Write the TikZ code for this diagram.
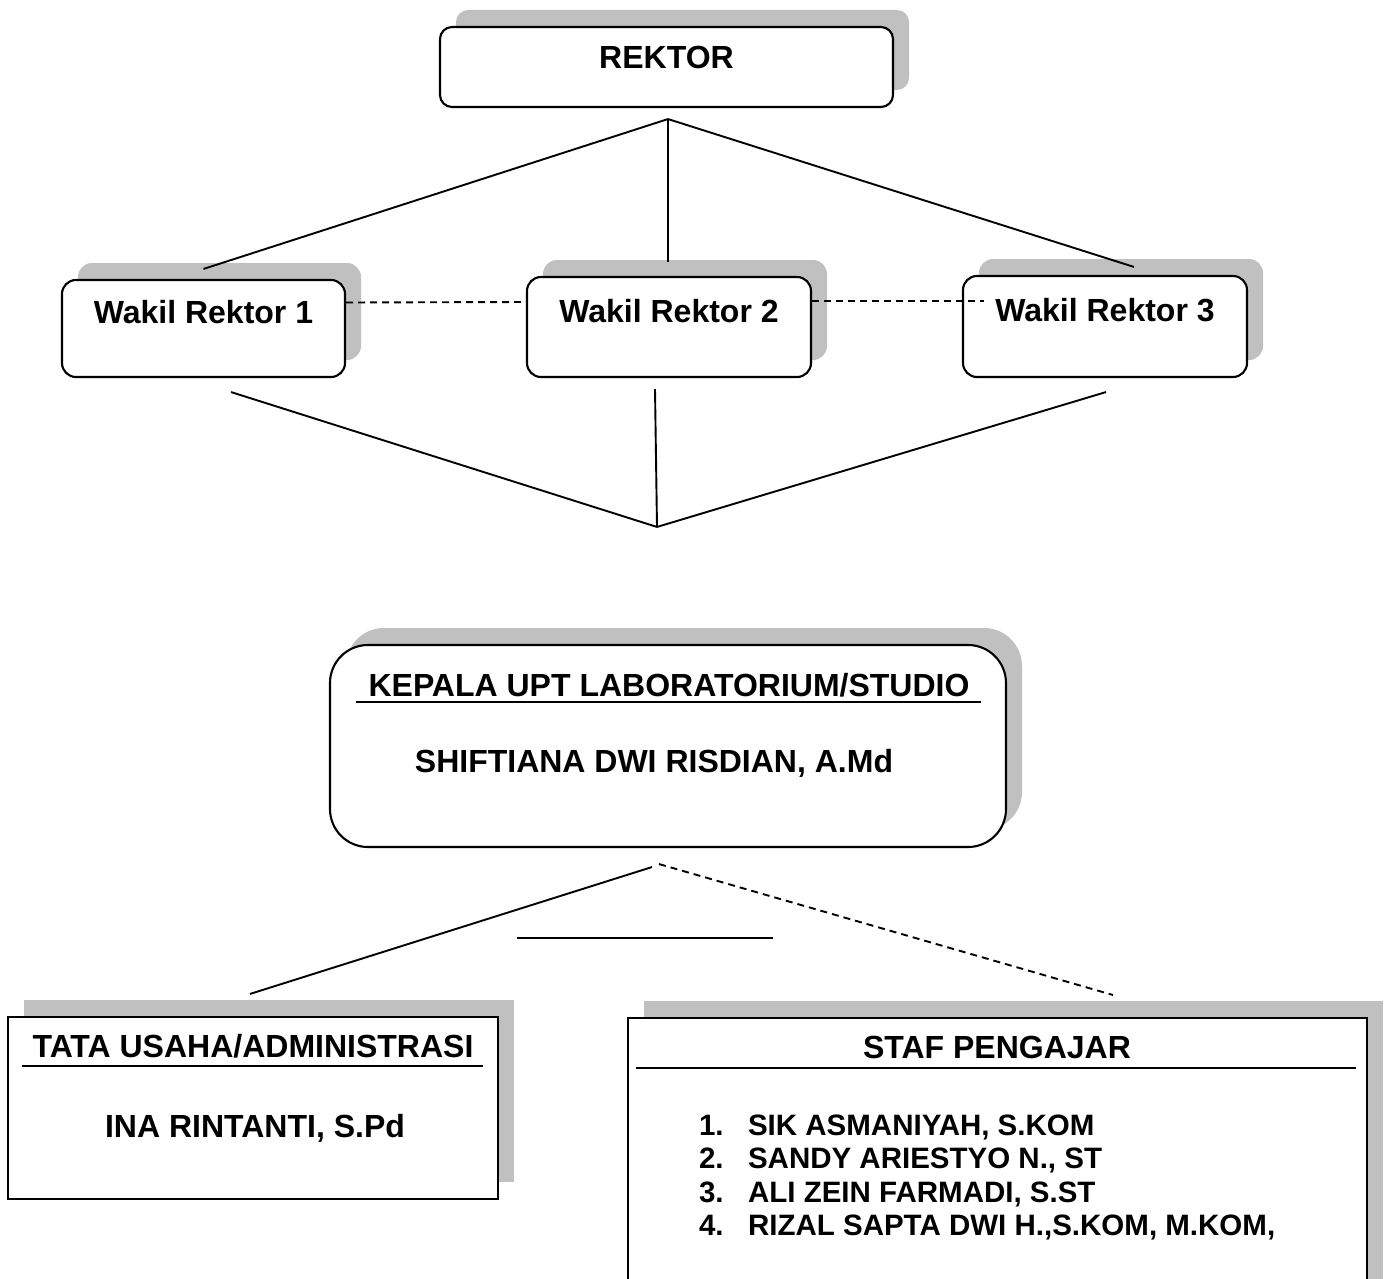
\documentclass[tikz,border=0pt]{standalone}
\usepackage{fontspec}
\setsansfont{Liberation Sans}
\usetikzlibrary{calc, shadows}
\definecolor{cshade}{HTML}{C0C0C0}
\tikzset{
  every picture/.style={font=\sffamily\bfseries, line width=2.1pt},
  txt/.style={font=\sffamily\bfseries\fontsize{32}{38}\selectfont},
  listtxt/.style={font=\sffamily\bfseries\fontsize{29.5}{33.5}\selectfont},
  box/.style={draw, fill=white, inner xsep=0pt, inner ysep=0pt, general shadow={fill=cshade, shadow xshift=16pt, shadow yshift=17pt}},
  roundbox/.style={box, rounded corners=#1},
  roundbox/.default=14pt,
  link/.style={draw, line width=1.9pt},
  dashlink/.style={link, dash pattern=on 7pt off 5pt},
}

\begin{document}
\begin{tikzpicture}[x=1pt, y=-1pt]
  \clip (0,0) rectangle (1393,1279);

  \node[roundbox=12pt, txt, minimum width=453pt, text height=42pt, text depth=38pt] (rektor) at (666.5,67) {REKTOR};
  \node[roundbox, txt, minimum width=283pt, text height=43pt, text depth=54pt] (wakilsatu) at (203.5,328.5) {Wakil Rektor 1};
  \node[roundbox, txt, minimum width=284pt, text height=45.7pt, text depth=54.3pt] (wakildua) at (669,327) {Wakil Rektor 2};
  \node[roundbox, txt, minimum width=284pt, text height=45.7pt, text depth=55.3pt] (wakiltiga) at (1105,326.5) {Wakil Rektor 3};

  \coordinate (rektorhub) at ($(rektor.south)+(1.5,11)$);
  \draw[link] (rektorhub) -- ($(wakilsatu.north)+(0,-10)$);
  \draw[link] (rektorhub) -- ($(wakildua.north)+(-1,-14)$);
  \draw[link] (rektorhub) -- ($(wakiltiga.north)+(29,-8)$);
  \draw[dashlink] ($(wakilsatu.east)+(0,-26)$) -- ($(wakildua.west)+(0,-25)$);
  \draw[dashlink] ($(wakildua.east)+(0,-26)$) -- ($(wakiltiga.west)+(22,-25.5)$);

  \node[roundbox=38pt, minimum width=676pt, minimum height=202pt] (kepala) at (668,746) {};
  \node[txt, anchor=base] (kepalajudul) at (669,696) {KEPALA UPT LABORATORIUM/STUDIO};
  \draw ($(kepala.north west)+(27,58)$) -- ($(kepala.north east)+(-26,58)$);
  \node[txt, anchor=base] (kepalanama) at (654,772) {SHIFTIANA DWI RISDIAN, A.Md};

  \coordinate (wakiljoin) at ($(kepala.north)+(-11,-117)$);
  \draw[link] ($(wakilsatu.south)+(27.5,14)$) -- (wakiljoin);
  \draw[link] ($(wakildua.south)+(-14,11)$) -- (wakiljoin);
  \draw[link] ($(wakiltiga.south)+(1,14)$) -- (wakiljoin);

  \node[box, minimum width=490pt, minimum height=182pt] (tatausaha) at (253,1108) {};
  \node[txt, anchor=base] (tatajudul) at (253,1057) {TATA USAHA/ADMINISTRASI};
  \draw ($(tatausaha.north west)+(15,50)$) -- ($(tatausaha.north east)+(-16,50)$);
  \node[txt, anchor=base] (tatanama) at (255,1137) {INA RINTANTI, S.Pd};

  \node[box, minimum width=739pt, minimum height=300pt, anchor=north] (staf) at (997.5,1017) {};
  \node[txt, anchor=base] (stafjudul) at (997,1058) {STAF PENGAJAR};
  \draw ($(staf.north west)+(9,51)$) -- ($(staf.north east)+(-12,51)$);
  \foreach \i/\who in {1/{SIK ASMANIYAH, S.KOM}, 2/{SANDY ARIESTYO N., ST}, 3/{ALI ZEIN FARMADI, S.ST}, 4/{RIZAL SAPTA DWI H.,S.KOM, M.KOM,}}
    \node[listtxt, anchor=base west, inner sep=0pt] (staf\i) at (698,{1135+33.5*(\i-1)}) {\makebox[49pt][l]{\i.}\who};

  \draw[link] ($(kepala.south)+(-16,19)$) -- ($(tatausaha.north)+(-3,-22)$);
  \draw[dashlink] ($(kepala.south)+(-9,16)$) -- ($(staf.north)+(115.5,-22)$);
  \draw[link] ($(kepala.south)+(-151,90)$) -- ($(kepala.south)+(105,90)$);
\end{tikzpicture}
\end{document}
